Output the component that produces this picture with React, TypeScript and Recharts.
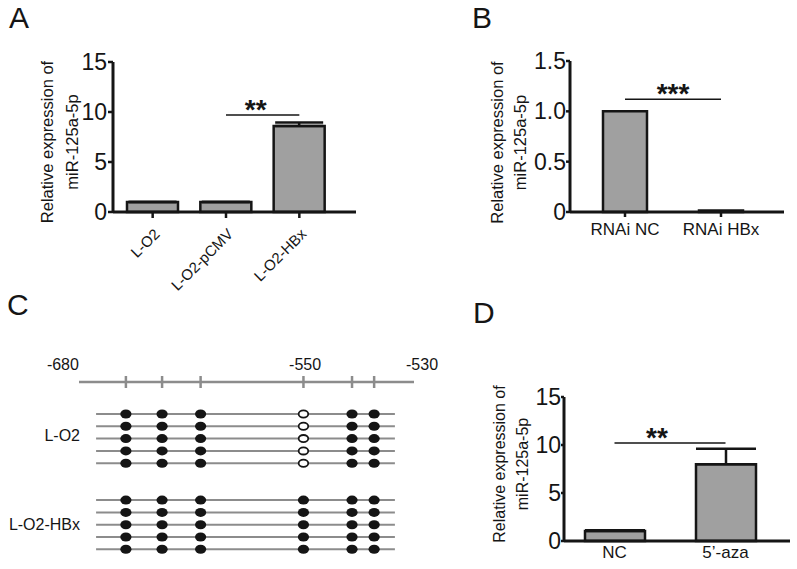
import React from "react";
import {
  Bar,
  BarChart,
  ErrorBar,
  Label,
  ReferenceLine,
  Scatter,
  ScatterChart,
  XAxis,
  YAxis,
} from "recharts";

const FONT = '"Liberation Sans", Arial, Helvetica, sans-serif';
const INK = "#151515";
const BAR_FILL = "#a0a0a0";
const GREY = "#8c8c8c";

// Panel A
const groupsA = ["L-O2", "L-O2-pCMV", "L-O2-HBx"];
const meanA = [1.0, 1.0, 8.6];
const errA = [0, 0, 0.35];
const ticksA = [0, 5, 10, 15];
const sigA = { from: "L-O2-pCMV", to: "L-O2-HBx", y: 9.7, text: "**" };

// Panel B
const groupsB = ["RNAi NC", "RNAi HBx"];
const meanB = [1.0, 0.015];
const errB = [0, 0];
const ticksB = [0, 0.5, 1.0, 1.5];
const sigB = { from: "RNAi NC", to: "RNAi HBx", y: 1.12, text: "***" };

// Panel D
const groupsD = ["NC", "5\u2019-aza"];
const meanD = [1.05, 8.0];
const errD = [0.08, 1.6];
const ticksD = [0, 5, 10, 15];
const sigD = { from: "NC", to: "5\u2019-aza", y: 10.2, text: "**" };

// Panel C (schematic positions along the promoter fragment)
const cpgSites = [14.0, 24.8, 36.3, 67.0, 81.5, 88.1];
const scaleMarks = ["-680", "-550", "-530"];
const scaleMarkPos = [-4.8, 67.5, 102.4];
const cloneStatusLO2 = [1, 1, 1, 0, 1, 1];
const cloneStatusHBx = [1, 1, 1, 1, 1, 1];
const cloneRowsLO2 = [0, 1, 2, 3, 4];
const cloneRowsHBx = [7, 8, 9, 10, 11];
const cellLines = ["L-O2", "L-O2-HBx"];
const cellLineRows = [1.75, 9];
const scaleRow = -2.6;
const cloneStart = 5.1;
const cloneEnd = 94.3;

const bars = (groups: string[], means: number[], errs: number[]) =>
  groups.map((g, i) => ({ name: g, value: means[i], err: [0, errs[i]] }));

const AxisTitle = (props: any) => {
  const { viewBox, lines, offsets, shift, fontSize } = props;
  if (!viewBox) return null;
  const cy = viewBox.y + viewBox.height / 2 + (shift || 0);
  return (
    <g>
      {lines.map((t: string, i: number) => {
        const cx = viewBox.x + offsets[i];
        return (
          <text
            key={t}
            x={cx}
            y={cy}
            transform={`rotate(-90 ${cx} ${cy})`}
            textAnchor="middle"
            dominantBaseline="central"
            fontSize={fontSize}
            fill={INK}
          >
            {t}
          </text>
        );
      })}
    </g>
  );
};

const Stars = (props: any) => {
  const { viewBox, text, dx } = props;
  if (!viewBox) return null;
  const cx = viewBox.x + viewBox.width / 2 + (dx || 0);
  return (
    <text
      x={cx}
      y={viewBox.y + 4}
      textAnchor="middle"
      fontSize={28}
      fontWeight="bold"
      fill={INK}
    >
      {text}
    </text>
  );
};

const SlantTick = (props: any) => {
  const { x, y, payload } = props;
  return (
    <text
      transform={`translate(${x + 8},${y + 15}) rotate(-45)`}
      textAnchor="end"
      fontSize={15}
      fill={INK}
    >
      {payload.value}
    </text>
  );
};

const Blank = () => <g />;

const TickMark = (props: any) => (
  <line
    x1={props.cx}
    x2={props.cx}
    y1={props.cy - 6}
    y2={props.cy + 6}
    stroke={GREY}
    strokeWidth={2.5}
  />
);

const FilledDot = (props: any) => (
  <ellipse cx={props.cx} cy={props.cy} rx={5.6} ry={4.5} fill={INK} />
);

const OpenDot = (props: any) => (
  <ellipse
    cx={props.cx}
    cy={props.cy}
    rx={4.8}
    ry={3.6}
    fill="#fff"
    stroke={INK}
    strokeWidth={1.8}
  />
);

const ScaleText = (props: any) => (
  <text x={props.cx} y={props.cy - 12} textAnchor="middle" fontSize={16} fill={INK}>
    {props.payload.label}
  </text>
);

const RowText = (props: any) => (
  <text x={props.cx} y={props.cy} dy="0.36em" textAnchor="end" fontSize={16} fill={INK}>
    {props.payload.label}
  </text>
);

const axisLine = { stroke: INK, strokeWidth: 3 };
const tickLine = { stroke: INK, strokeWidth: 2.5 };
const yTick = { fill: INK, fontSize: 23 };
const xTick = { fill: INK, fontSize: 17 };
const titleLines = ["Relative expression of", "miR-125a-5p"];

const sigLine = (s: { from: string; to: string; y: number; text: string }, dx: number) => (
  <ReferenceLine
    segment={[
      { x: s.from, y: s.y },
      { x: s.to, y: s.y },
    ]}
    stroke={INK}
    strokeWidth={1.5}
    ifOverflow="visible"
    label={<Stars text={s.text} dx={dx} />}
  />
);

const PanelA = () => (
  <BarChart
    width={400}
    height={300}
    data={bars(groupsA, meanA, errA)}
    margin={{ top: 62, right: 44, bottom: 28, left: 30 }}
  >
    <XAxis
      dataKey="name"
      height={60}
      padding={{ left: 3, right: 20 }}
      axisLine={axisLine}
      tickLine={tickLine}
      tickSize={6}
      tickMargin={2}
      tick={<SlantTick />}
      interval={0}
    />
    <YAxis
      width={83}
      domain={[0, 15]}
      ticks={ticksA}
      axisLine={axisLine}
      tickLine={tickLine}
      tickSize={5}
      tickMargin={1}
      tick={yTick}
    >
      <Label
        content={<AxisTitle lines={titleLines} offsets={[17, 42]} shift={5} fontSize={16.5} />}
      />
    </YAxis>
    <Bar
      dataKey="value"
      fill={BAR_FILL}
      stroke={INK}
      strokeWidth={2.5}
      barSize={51}
      isAnimationActive={false}
    >
      <ErrorBar dataKey="err" width={24} stroke={INK} strokeWidth={2.5} />
    </Bar>
    {sigLine(sigA, -7)}
  </BarChart>
);

const PanelB = () => (
  <BarChart
    width={397}
    height={290}
    data={bars(groupsB, meanB, errB)}
    margin={{ top: 61, right: 13, bottom: 38, left: 80 }}
  >
    <XAxis
      dataKey="name"
      height={40}
      padding={{ left: 7, right: 15 }}
      axisLine={axisLine}
      tickLine={tickLine}
      tickSize={5}
      tickMargin={6}
      tick={xTick}
      interval={0}
    />
    <YAxis
      width={90}
      domain={[0, 1.5]}
      ticks={ticksB}
      tickFormatter={(v: number) => (v === 0 ? "0" : v.toFixed(1))}
      axisLine={axisLine}
      tickLine={tickLine}
      tickSize={4}
      tickMargin={0}
      tick={yTick}
    >
      <Label
        content={<AxisTitle lines={titleLines} offsets={[17, 40]} shift={6} fontSize={16.5} />}
      />
    </YAxis>
    <Bar
      dataKey="value"
      fill={BAR_FILL}
      stroke={INK}
      strokeWidth={2.5}
      barSize={44}
      isAnimationActive={false}
    />
    {sigLine(sigB, 0)}
  </BarChart>
);

const PanelD = () => (
  <BarChart
    width={337}
    height={279}
    data={bars(groupsD, meanD, errD)}
    margin={{ top: 107, right: 7, bottom: 3, left: 20 }}
  >
    <XAxis
      dataKey="name"
      height={25}
      padding={{ left: -5, right: 9 }}
      axisLine={axisLine}
      tickLine={false}
      tickSize={3}
      tickMargin={2}
      tick={xTick}
      interval={0}
    />
    <YAxis
      width={84}
      domain={[0, 15]}
      ticks={ticksD}
      axisLine={axisLine}
      tickLine={tickLine}
      tickSize={3}
      tickMargin={0}
      tick={yTick}
    >
      <Label
        content={<AxisTitle lines={titleLines} offsets={[19, 42]} shift={-5} fontSize={16} />}
      />
    </YAxis>
    <Bar
      dataKey="value"
      fill={BAR_FILL}
      stroke={INK}
      strokeWidth={2.5}
      barSize={60}
      isAnimationActive={false}
    >
      <ErrorBar dataKey="err" width={30} stroke={INK} strokeWidth={2.5} />
    </Bar>
    {sigLine(sigD, -13)}
  </BarChart>
);

const PanelC = () => {
  const clones = [
    ...cloneRowsLO2.map((r) => ({ row: r, status: cloneStatusLO2 })),
    ...cloneRowsHBx.map((r) => ({ row: r, status: cloneStatusHBx })),
  ];
  const dots = clones.flatMap((c) =>
    cpgSites.map((s, i) => ({ x: s, y: c.row, m: c.status[i] }))
  );
  const methylated = dots.filter((d) => d.m === 1);
  const unmethylated = dots.filter((d) => d.m === 0);
  const ticks = cpgSites.map((s) => ({ x: s, y: scaleRow }));
  const marks = scaleMarks.map((l, i) => ({ x: scaleMarkPos[i], y: scaleRow, label: l }));
  const rowLabels = cellLines.map((l, i) => ({ x: 0.3, y: cellLineRows[i], label: l }));

  return (
    <ScatterChart
      width={460}
      height={279}
      margin={{ top: 62.5, right: 25.9, bottom: 19.7, left: 52.2 }}
    >
      <XAxis type="number" dataKey="x" domain={[-8, 106]} hide />
      <YAxis type="number" dataKey="y" domain={[-5, 11]} reversed hide />
      <Scatter
        data={[
          { x: 0, y: scaleRow },
          { x: 100, y: scaleRow },
        ]}
        line={{ stroke: GREY, strokeWidth: 2.5 }}
        shape={Blank}
        isAnimationActive={false}
      />
      {clones.map((c) => (
        <Scatter
          key={c.row}
          data={[
            { x: cloneStart, y: c.row },
            { x: cloneEnd, y: c.row },
          ]}
          line={{ stroke: GREY, strokeWidth: 2 }}
          shape={Blank}
          isAnimationActive={false}
        />
      ))}
      <Scatter data={ticks} shape={TickMark} isAnimationActive={false} />
      <Scatter data={methylated} shape={FilledDot} isAnimationActive={false} />
      <Scatter data={unmethylated} shape={OpenDot} isAnimationActive={false} />
      <Scatter data={marks} shape={ScaleText} isAnimationActive={false} />
      <Scatter data={rowLabels} shape={RowText} isAnimationActive={false} />
    </ScatterChart>
  );
};

const panelLetters = ["A", "B", "C", "D"];
const letterX = [9, 472, 7, 473];
const letterY = [28, 28, 315, 323];

export default function App() {
  return (
    <div
      style={{
        position: "fixed",
        left: 0,
        top: 0,
        width: 797,
        height: 569,
        background: "#fff",
        fontFamily: FONT,
        color: INK,
      }}
    >
      <div style={{ position: "absolute", left: 0, top: 290 }}>
        <PanelC />
      </div>
      <div style={{ position: "absolute", left: 0, top: 0 }}>
        <PanelA />
      </div>
      <div style={{ position: "absolute", left: 400, top: 0 }}>
        <PanelB />
      </div>
      <div style={{ position: "absolute", left: 460, top: 290 }}>
        <PanelD />
      </div>
      <svg
        width={797}
        height={569}
        style={{ position: "absolute", left: 0, top: 0, pointerEvents: "none" }}
      >
        {panelLetters.map((l, i) => (
          <text key={l} x={letterX[i]} y={letterY[i]} fontSize={30} fill={INK}>
            {l}
          </text>
        ))}
      </svg>
    </div>
  );
}
